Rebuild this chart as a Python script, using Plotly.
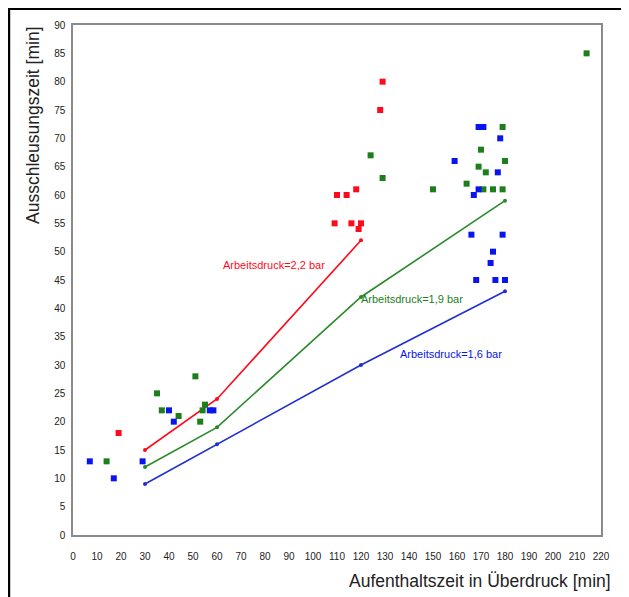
import plotly.graph_objects as go

# Scatter data (Aufenthaltszeit, Ausschleusungszeit)
red_x = [19, 109, 110, 114, 116, 118, 119, 120, 128, 129]
red_y = [18, 55, 60, 60, 55, 61, 54, 55, 75, 80]

green_x = [14, 35, 37, 44, 51, 53, 54, 55, 124, 129, 150, 164, 169, 170, 171, 172, 175, 179, 179, 180, 214]
green_y = [13, 25, 22, 21, 28, 20, 22, 23, 67, 63, 61, 62, 65, 68, 61, 64, 61, 61, 72, 66, 85]

blue_x = [7, 17, 29, 40, 42, 57, 58.5, 159, 166, 167, 168, 169, 169, 171, 174, 175, 176, 177, 178, 179, 180]
blue_y = [13, 10, 13, 22, 20, 22, 22, 66, 53, 60, 45, 61, 72, 72, 48, 50, 45, 64, 70, 53, 45]

# Fitted lines
line_red_x = [30, 60, 120]
line_red_y = [15, 24, 52]
line_green_x = [30, 60, 120, 180]
line_green_y = [12, 19, 42, 59]
line_blue_x = [30, 60, 120, 180]
line_blue_y = [9, 16, 30, 43]

x_ticks = list(range(0, 221, 10))
y_ticks = list(range(0, 91, 5))

RED = "#ff0a1a"
GREEN = "#1c7f1c"
BLUE = "#0a14f0"

fig = go.Figure()

fig.add_trace(go.Scatter(x=line_red_x, y=line_red_y, mode="lines+markers",
                         line=dict(color=RED, width=1.6), marker=dict(size=4, color=RED)))
fig.add_trace(go.Scatter(x=line_green_x, y=line_green_y, mode="lines+markers",
                         line=dict(color="#2a8a2a", width=1.6), marker=dict(size=4, color="#2a8a2a")))
fig.add_trace(go.Scatter(x=line_blue_x, y=line_blue_y, mode="lines+markers",
                         line=dict(color="#2030d0", width=1.6), marker=dict(size=4, color="#2030d0")))

for xs, ys, c in [(red_x, red_y, RED), (green_x, green_y, GREEN), (blue_x, blue_y, BLUE)]:
    fig.add_trace(go.Scatter(x=xs, y=ys, mode="markers",
                             marker=dict(symbol="square", size=6, color=c, line=dict(width=0))))

ann_font = dict(family="Liberation Sans Narrow, Arial, Liberation Sans, sans-serif", size=11)
fig.add_annotation(x=83.75, y=47.6, text="Arbeitsdruck=2,2 bar", showarrow=False,
                   font=dict(ann_font, color=RED))
fig.add_annotation(x=141.3, y=41.6, text="Arbeitsdruck=1,9 bar", showarrow=False,
                   font=dict(ann_font, color=GREEN))
fig.add_annotation(x=157.5, y=31.9, text="Arbeitsdruck=1,6 bar", showarrow=False,
                   font=dict(ann_font, color=BLUE))

title_font = dict(family="Arial, Liberation Sans, sans-serif", size=17.5, color="#222")
# axis titles
fig.add_annotation(xref="paper", yref="paper", x=-0.0758, y=0.804, textangle=-90,
                   xanchor="center", yanchor="middle",
                   text="Ausschleusungszeit [min]", showarrow=False, font=title_font)
fig.add_annotation(xref="paper", yref="paper", x=1.0227, y=-0.090, xanchor="right",
                   yanchor="middle",
                   text="Aufenthaltszeit in Überdruck [min]", showarrow=False, font=title_font)

# outer frame (left and top edges visible)
fig.add_shape(type="rect", xref="paper", yref="paper", x0=-0.121, y0=-0.2, x1=1.2, y1=1.0314,
              line=dict(color="black", width=2.2), layer="above")

tick_font = dict(family="Arial, Liberation Sans, sans-serif", size=10, color="#222")
fig.update_xaxes(range=[0, 220], tickvals=x_ticks, ticktext=[str(v) for v in x_ticks],
                 showgrid=False, zeroline=False, showline=True, mirror=True,
                 linecolor="#8a8a8a", linewidth=1.5, ticks="", tickfont=tick_font,
                 ticklabelstandoff=11)
fig.update_yaxes(range=[0, 90], tickvals=y_ticks, ticktext=[str(v) for v in y_ticks],
                 showgrid=False, zeroline=False, showline=True, mirror=True,
                 linecolor="#8a8a8a", linewidth=1.5, ticks="", tickfont=tick_font,
                 ticklabelstandoff=4)

# page has an 8px body margin, so figure coordinates are offset by -8px
fig.update_layout(width=629, height=597, showlegend=False,
                  margin=dict(l=65, r=36, t=17, b=70),
                  plot_bgcolor="white", paper_bgcolor="white")

fig.write_html("out.html")
